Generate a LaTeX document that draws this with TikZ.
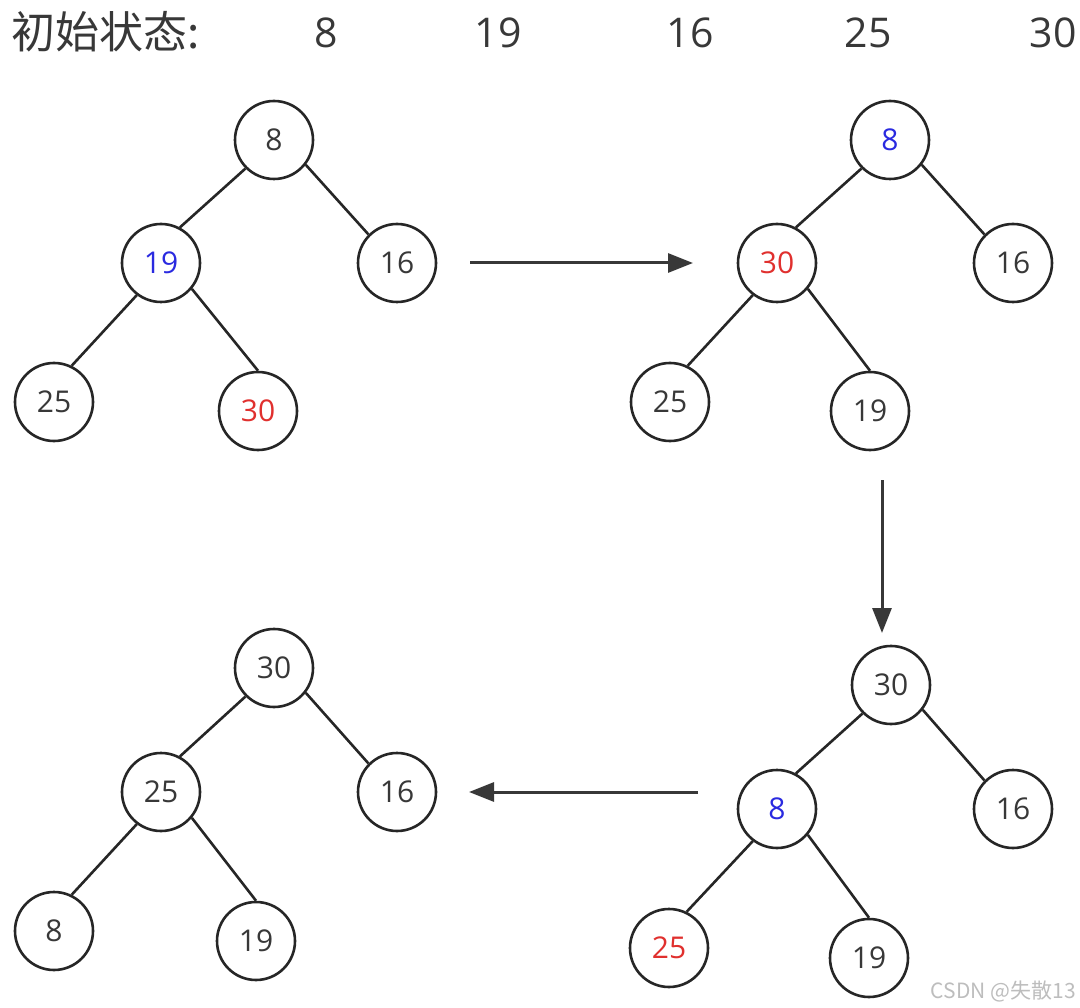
\documentclass[tikz,border=0pt]{standalone}
\usepackage{fontspec}
\setmainfont{Open Sans}
\newfontfamily\cjk{Noto Sans CJK SC}
\usetikzlibrary{arrows.meta}
\definecolor{ink}{HTML}{383838}
\definecolor{ring}{HTML}{262626}
\definecolor{hiblue}{HTML}{2A2AE0}
\definecolor{hired}{HTML}{E0302E}
\definecolor{mark}{HTML}{BDBDBD}
\begin{document}
\begin{tikzpicture}[x=1pt,y=-1pt,
  heapnode/.style={circle,draw=ring,line width=2.6pt,minimum size=78pt,inner sep=0pt,
    font=\fontsize{30}{30}\selectfont,text=ink},
  blue/.style={text=hiblue},
  red/.style={text=hired},
  treeedge/.style={draw=ring,line width=2.6pt},
  flow/.style={draw=ink,line width=3pt,-{Triangle[length=25pt,width=19pt]}},
  titletext/.style={font=\fontsize{41}{41}\selectfont,text=ink,inner sep=0pt,anchor=base},
]
\useasboundingbox (0,0) rectangle (1080,1008);

% title row
\node[titletext,anchor=base west,font=\cjk\fontsize{44}{44}\selectfont] (title) at (11,49) {初始状态:};
\node[titletext] (t1) at (326,48) {8};
\node[titletext] (t2) at (498,48) {19};
\node[titletext] (t3) at (690,48) {16};
\node[titletext] (t4) at (868,48) {25};
\node[titletext] (t5) at (1053,48) {30};

% tree 1
\node[heapnode] (a1) at (274,140) {8};
\node[heapnode,blue] (a2) at (161,263) {19};
\node[heapnode] (a3) at (397,263) {16};
\node[heapnode] (a4) at (54,402) {25};
\node[heapnode,red] (a5) at (258,411) {30};
\draw[treeedge] (a1.225) -- (a2.62);
\draw[treeedge] (a1.322) -- (a3.135);
\draw[treeedge] (a2.233) -- (a4.64);
\draw[treeedge] (a2.320) -- (a5.90);

% tree 2
\node[heapnode,blue] (b1) at (890,140) {8};
\node[heapnode,red] (b2) at (777,263) {30};
\node[heapnode] (b3) at (1013,263) {16};
\node[heapnode] (b4) at (670,402) {25};
\node[heapnode] (b5) at (870,411) {19};
\draw[treeedge] (b1.225) -- (b2.62);
\draw[treeedge] (b1.322) -- (b3.135);
\draw[treeedge] (b2.233) -- (b4.64);
\draw[treeedge] (b2.320) -- (b5.90);

% tree 3
\node[heapnode] (c1) at (891,685) {30};
\node[heapnode,blue] (c2) at (777,809) {8};
\node[heapnode] (c3) at (1013,809) {16};
\node[heapnode,red] (c4) at (669,948) {25};
\node[heapnode] (c5) at (869,958) {19};
\draw[treeedge] (c1.225) -- (c2.62);
\draw[treeedge] (c1.322) -- (c3.135);
\draw[treeedge] (c2.233) -- (c4.64);
\draw[treeedge] (c2.320) -- (c5.90);

% tree 4
\node[heapnode] (d1) at (274,668) {30};
\node[heapnode] (d2) at (161,792) {25};
\node[heapnode] (d3) at (397,792) {16};
\node[heapnode] (d4) at (54,931) {8};
\node[heapnode] (d5) at (256,941) {19};
\draw[treeedge] (d1.225) -- (d2.62);
\draw[treeedge] (d1.322) -- (d3.135);
\draw[treeedge] (d2.233) -- (d4.64);
\draw[treeedge] (d2.320) -- (d5.90);

% arrows
\coordinate (f1s) at (470,263);
\coordinate (f1e) at (693,263);
\coordinate (f2s) at (882,480);
\coordinate (f2e) at (882,633);
\coordinate (f3s) at (698,792);
\coordinate (f3e) at (469,792);
\draw[flow] (f1s) -- (f1e);
\draw[flow] (f2s) -- (f2e);
\draw[flow] (f3s) -- (f3e);

% watermark
\node[anchor=east,inner sep=0pt,text=mark,font=\cjk\fontsize{21}{21}\selectfont] (wm) at (1076,991) {CSDN @失散13};
\end{tikzpicture}
\end{document}
